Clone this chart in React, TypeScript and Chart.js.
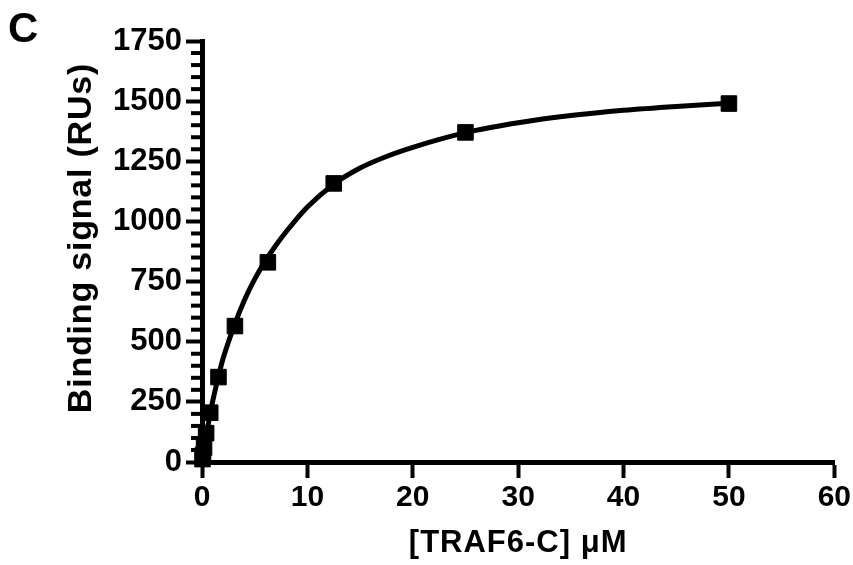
import React, { useEffect, useRef } from 'react';
import { Chart, registerables } from 'chart.js';

Chart.register(...registerables);

// Measured binding points: [TRAF6-C] (µM) vs binding signal (RUs)
const concentrations = [50, 25, 12.5, 6.25, 3.125, 1.5625, 0.78125, 0.390625, 0.1953, 0.0977, 0.0488];
const bindingSignal = [1490, 1370, 1158, 830, 565, 353, 205, 120, 60, 30, 12];

// Fitted curve
const fitX = [0, 0.25, 0.5, 0.75, 1, 1.5, 2, 3, 4, 5, 6, 7, 8, 10, 12.5, 15, 17.5, 20, 25, 30, 35, 40, 45, 50];
const fitY = [0, 72, 135, 195, 250, 345, 430, 560, 670, 760, 835, 900, 958, 1060, 1155, 1222, 1270, 1308, 1369, 1410, 1440, 1462, 1478, 1491];

const xMin = 0;
const xMax = 60;
const xStep = 10;
const yMin = 0;
const yMax = 1750;
const yMajorStep = 250;
const yMinorStep = 50;

const panelLabel = 'C';
const xTitle = '[TRAF6-C] μM';
const yTitle = 'Binding signal (RUs)';

const FONT = '"Liberation Sans", Arial, Helvetica, sans-serif';

const annotate = {
  id: 'annotate',
  beforeDatasetsDraw(chart: any) {
    const y = chart.scales.y;
    const ctx = chart.ctx;
    ctx.save();
    ctx.strokeStyle = '#000';
    ctx.lineWidth = 4;
    for (let v = yMin; v <= yMax; v += yMinorStep) {
      if (v % yMajorStep === 0) continue;
      const py = y.getPixelForValue(v);
      ctx.beginPath();
      ctx.moveTo(y.right, py);
      ctx.lineTo(y.right - 11, py);
      ctx.stroke();
    }
    ctx.restore();
  },
  afterDraw(chart: any) {
    const ctx = chart.ctx;
    const area = chart.chartArea;
    ctx.save();
    ctx.fillStyle = '#000';
    // panel label
    ctx.font = `bold 42px ${FONT}`;
    ctx.textAlign = 'left';
    ctx.textBaseline = 'alphabetic';
    ctx.fillText(panelLabel, 8, 42);
    // x title
    ctx.font = `bold 31px ${FONT}`;
    (ctx as any).letterSpacing = '1px';
    ctx.textAlign = 'center';
    ctx.fillText(xTitle, (area.left + area.right) / 2, 552);
    // y title
    ctx.font = `bold 34px ${FONT}`;
    (ctx as any).letterSpacing = '0.8px';
    ctx.translate(91, 238);
    ctx.rotate(-Math.PI / 2);
    ctx.textAlign = 'center';
    ctx.fillText(yTitle, 0, 0);
    ctx.restore();
  },
};

export default function App() {
  const ref = useRef<HTMLCanvasElement | null>(null);

  useEffect(() => {
    if (!ref.current) return;
    const chart = new Chart(ref.current, {
      type: 'scatter',
      data: {
        datasets: [
          {
            label: 'Binding',
            data: concentrations.map((x, i) => ({ x, y: bindingSignal[i] })),
            showLine: false,
            pointStyle: 'rect',
            pointRadius: 11,
            pointBackgroundColor: '#000',
            pointBorderColor: '#000',
            pointBorderWidth: 1,
            clip: false as any,
          },
          {
            label: 'Fit',
            data: fitX.map((x, i) => ({ x, y: fitY[i] })),
            showLine: true,
            pointRadius: 0,
            borderColor: '#000',
            borderWidth: 5,
            cubicInterpolationMode: 'monotone',
            fill: false,
            clip: false as any,
          },
        ],
      },
      options: {
        responsive: false,
        animation: false,
        devicePixelRatio: 1,
        layout: { padding: { top: 41, right: 17, left: 0, bottom: 0 } },
        plugins: {
          legend: { display: false },
          tooltip: { enabled: false },
        },
        scales: {
          x: {
            type: 'linear',
            min: xMin,
            max: xMax,
            afterFit(scale: any) {
              scale.height = 103;
            },
            ticks: {
              stepSize: xStep,
              color: '#000',
              font: { family: FONT, size: 30, weight: 'bold' },
              padding: 2,
              maxRotation: 0,
              autoSkip: false,
              callback: (v: any) => String(v),
            },
            grid: {
              display: true,
              drawOnChartArea: false,
              drawTicks: true,
              tickLength: 16,
              tickWidth: 4,
              tickColor: '#000',
            },
            border: { display: true, color: '#000', width: 5 },
          },
          y: {
            type: 'linear',
            min: yMin,
            max: yMax,
            afterFit(scale: any) {
              scale.width = 202;
            },
            ticks: {
              stepSize: yMajorStep,
              color: '#000',
              font: { family: FONT, size: 31, weight: 'bold' },
              padding: 4,
              autoSkip: false,
              callback: (v: any) => String(v),
            },
            grid: {
              display: true,
              drawOnChartArea: false,
              drawTicks: true,
              tickLength: 16,
              tickWidth: 4,
              tickColor: '#000',
            },
            border: { display: true, color: '#000', width: 5 },
          },
        },
      },
      plugins: [annotate],
    } as any);
    return () => chart.destroy();
  }, []);

  return (
    <div style={{ position: 'absolute', left: 0, top: 0, width: 853, height: 565, background: '#fff' }}>
      <canvas ref={ref} width={853} height={565} style={{ display: 'block' }} />
    </div>
  );
}
